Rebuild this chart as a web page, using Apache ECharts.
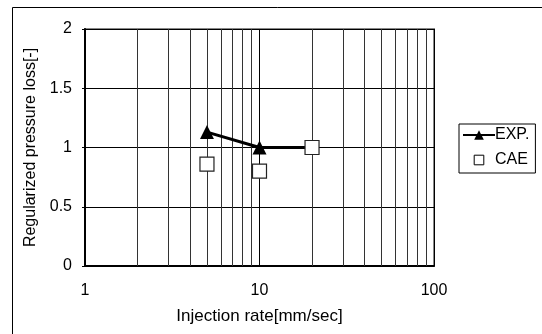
<!DOCTYPE html>
<html>
<head>
<meta charset="utf-8">
<script src="https://cdn.jsdelivr.net/npm/echarts@6/dist/echarts.min.js"></script>
<style>
html,body{margin:0;padding:0;background:#fff;}
#main{width:542px;height:334px;}
</style>
</head>
<body>
<div id="main"></div>
<script>
// 数据
var expX = [5, 10, 20];
var expY = [1.13, 1.0, 1.0];
var caeX = [5, 10, 20];
var caeY = [0.86, 0.8, 1.0];
var yTicks = [0, 0.5, 1, 1.5, 2];
// 对数轴的次网格线
var minorX = [2, 3, 4, 5, 6, 7, 8, 9, 20, 30, 40, 50, 60, 70, 80, 90];

var font = 'Liberation Sans, Arial, sans-serif';

function pairs(xs, ys) {
	var out = [];
	for (var i = 0; i < xs.length; i++) out.push([xs[i], ys[i]]);
	return out;
}

var myChart = echarts.init(document.getElementById('main'));
var option = {
	animation: false,
	backgroundColor: '#fff',
	textStyle: {fontFamily: font},
	graphic: [{
		type: 'rect',
		shape: {x: 12.5, y: 7.5, width: 560, height: 360},
		style: {fill: 'none', stroke: '#000', lineWidth: 1},
		silent: true
	}],
	grid: {
		left: 85, top: 29, right: 108, bottom: 68,
		show: true, borderColor: '#888', borderWidth: 2, backgroundColor: '#fff'
	},
	legend: {
		orient: 'vertical',
		left: 459, top: 124,
		padding: [3, 6, 5, 3],
		itemGap: 9,
		itemWidth: 32, itemHeight: 12,
		borderColor: '#000', borderWidth: 1,
		textStyle: {fontFamily: font, fontSize: 16, color: '#000', padding: [0, 0, 0, -5]},
		data: [
			{name: 'EXP.'},
			{name: 'CAE', lineStyle: {opacity: 0}, itemStyle: {color: '#fff', borderColor: '#000', borderWidth: 1}}
		]
	},
	xAxis: {
		type: 'log',
		logBase: 10,
		min: 1, max: 100,
		name: 'Injection rate[mm/sec]',
		nameLocation: 'middle',
		nameGap: 42,
		nameTextStyle: {fontFamily: font, fontSize: 17, color: '#000'},
		axisLine: {show: true, lineStyle: {color: '#000', width: 2}},
		axisTick: {show: false},
		axisLabel: {color: '#000', fontSize: 16, fontFamily: font, margin: 17},
		splitLine: {show: true, lineStyle: {color: '#000', width: 1}}
	},
	yAxis: {
		type: 'value',
		min: yTicks[0], max: yTicks[yTicks.length - 1], interval: 0.5,
		name: 'Regularized pressure loss[-]',
		nameLocation: 'middle',
		nameGap: 42,
		nameTextStyle: {fontFamily: font, fontSize: 16, color: '#000'},
		axisLine: {show: true, lineStyle: {color: '#000', width: 2}},
		axisTick: {show: true, length: 3, lineStyle: {color: '#000'}},
		axisLabel: {color: '#000', fontSize: 16, fontFamily: font, margin: 13},
		splitLine: {show: true, lineStyle: {color: '#000', width: 1}}
	},
	series: [
		{
			name: 'EXP.',
			type: 'line',
			data: pairs(expX, expY),
			symbol: 'triangle',
			symbolSize: 14,
			color: '#000',
			itemStyle: {color: '#000'},
			lineStyle: {color: '#000', width: 3},
			z: 3,
			markLine: {
				silent: true,
				symbol: 'none',
				label: {show: false},
				lineStyle: {color: '#333', width: 1, type: 'solid'},
				data: minorX.map(function (v) { return {xAxis: v}; }),
				z: 1
			}
		},
		{
			name: 'CAE',
			type: 'line',
			data: pairs(caeX, caeY),
			symbol: 'rect',
			symbolSize: 14,
			itemStyle: {color: '#fff', borderColor: '#222', borderWidth: 1.2, opacity: 1},
			lineStyle: {opacity: 0},
			z: 4
		}
	]
};
myChart.setOption(option);
window.onresize = function () {
	myChart.resize();
};
</script>
</body>
</html>
